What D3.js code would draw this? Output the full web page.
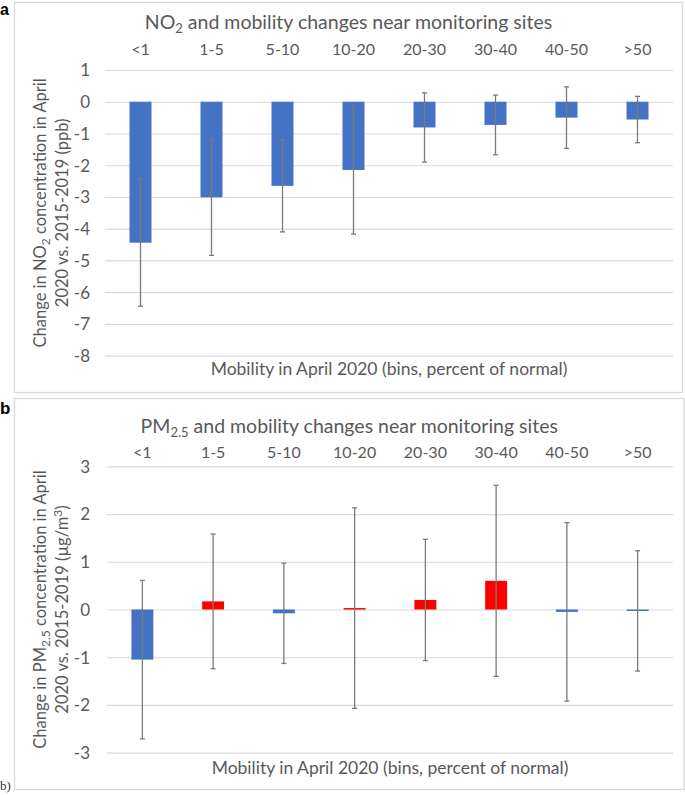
<!DOCTYPE html>
<html>
<head>
<meta charset="utf-8">
<script src="https://cdn.jsdelivr.net/npm/d3@7"></script>
<style>
  html, body { margin: 0; padding: 0; background: #fff; }
  svg { display: block; }
  text { font-family: Lato, "Open Sans", sans-serif; fill: #595959; }
</style>
</head>
<body>
<svg id="chart" width="685" height="795"></svg>
<script>
// ---------- data ----------
const categories = ["<1", "1-5", "5-10", "10-20", "20-30", "30-40", "40-50", ">50"];

// Panel a: NO2 change (ppb)
const no2Values = [-4.44, -3.01, -2.65, -2.15, -0.81, -0.73, -0.50, -0.56];
const no2Errors = [2.0, 1.83, 1.45, 2.02, 1.09, 0.94, 0.97, 0.73];
const no2Ticks = [1, 0, -1, -2, -3, -4, -5, -6, -7, -8];

// Panel b: PM2.5 change (ug/m3)
const pmValues = [-1.05, 0.17, -0.08, 0.03, 0.20, 0.60, -0.05, -0.03];
const pmErrors = [1.66, 1.41, 1.05, 2.10, 1.27, 2.00, 1.87, 1.26];
const pmTicks = [3, 2, 1, 0, -1, -2, -3];

const xTitle = "Mobility in April 2020 (bins, percent of normal)";

// ---------- drawing ----------
const svg = d3.select("#chart");
const BLUE = "#4472C4", RED = "#FF0000", GRID = "#d9d9d9", ERR = "#7a7a7a";

function drawPanel(cfg) {
  const g = svg.append("g");
  // panel frame
  g.append("rect")
    .attr("x", cfg.frame[0]).attr("y", cfg.frame[1])
    .attr("width", cfg.frame[2] - cfg.frame[0]).attr("height", cfg.frame[3] - cfg.frame[1])
    .attr("fill", "none").attr("stroke", "#d9d9d9").attr("stroke-width", 1.3);

  const x = d3.scaleBand().domain(categories).range([cfg.left, cfg.right]).padding(0);
  const y = d3.scaleLinear().domain(cfg.domain).range([cfg.bottom, cfg.top]);

  // gridlines via axis
  const yAxis = d3.axisLeft(y).tickValues(cfg.ticks).tickSize(-(cfg.right - cfg.left)).tickFormat(d => String(d));
  const ya = g.append("g").attr("transform", `translate(${cfg.left},0)`).call(yAxis);
  ya.select(".domain").remove();
  ya.selectAll(".tick line").attr("stroke", GRID).attr("stroke-width", 1.2);
  ya.selectAll(".tick text").attr("x", -cfg.tickGap).attr("dy", "0.35em")
    .style("font-size", "17px").style("font-family", "Lato, sans-serif").attr("fill", "#595959");

  // category labels on top
  const xAxis = d3.axisTop(x).tickSize(0);
  const xa = g.append("g").attr("transform", `translate(0,${cfg.catY})`).call(xAxis);
  xa.select(".domain").remove();
  xa.selectAll(".tick text").attr("y", 0).attr("dy", 0)
    .style("font-size", "16px").style("font-family", "Lato, sans-serif").attr("fill", "#595959");

  const bw = x.bandwidth() * 0.31;
  const cx = d => x(d) + x.bandwidth() / 2;

  const vals = cfg.values;
  // bars
  g.selectAll("rect.bar").data(categories).join("rect")
    .attr("class", "bar")
    .attr("x", d => cx(d) - bw / 2)
    .attr("width", bw)
    .attr("y", (d, i) => y(Math.max(0, vals[i])))
    .attr("height", (d, i) => Math.max(1.5, Math.abs(y(vals[i]) - y(0))))
    .attr("fill", (d, i) => cfg.signColors && vals[i] > 0 ? RED : BLUE);

  // error bars
  const eg = g.selectAll("g.err").data(categories).join("g").attr("class", "err");
  eg.append("line")
    .attr("x1", cx).attr("x2", cx)
    .attr("y1", (d, i) => y(vals[i] + cfg.errors[i]))
    .attr("y2", (d, i) => y(vals[i] - cfg.errors[i]))
    .attr("stroke", ERR).attr("stroke-width", 1.3);
  [1, -1].forEach(s => {
    eg.append("line")
      .attr("x1", d => cx(d) - 2.5).attr("x2", d => cx(d) + 2.5)
      .attr("y1", (d, i) => y(vals[i] + s * cfg.errors[i]))
      .attr("y2", (d, i) => y(vals[i] + s * cfg.errors[i]))
      .attr("stroke", ERR).attr("stroke-width", 1.3);
  });

  // chart title
  const t = g.append("text").attr("x", (cfg.frame[0] + cfg.frame[2]) / 2).attr("y", cfg.titleY)
    .attr("text-anchor", "middle").style("font-size", "19.5px");
  t.append("tspan").text(cfg.titleMain);
  t.append("tspan").text(cfg.titleSub).attr("dy", 4).style("font-size", "13px");
  t.append("tspan").text(cfg.titleRest).attr("dy", -4);

  // x axis title (bottom)
  g.append("text").attr("x", (cfg.left + cfg.right) / 2).attr("y", cfg.xTitleY)
    .attr("text-anchor", "middle").style("font-size", "17.5px").text(xTitle);

  // y axis title (two lines, rotated)
  const cy = (cfg.top + cfg.bottom) / 2;
  const l1 = g.append("text").attr("transform", `translate(46,${cy}) rotate(-90)`)
    .attr("text-anchor", "middle").style("font-size", "16.5px");
  cfg.yLine1.forEach(p => {
    const ts = l1.append("tspan").text(p.t);
    if (p.sub) ts.attr("dy", 4).style("font-size", "12px");
    if (p.back) ts.attr("dy", -4);
  });
  const l2 = g.append("text").attr("transform", `translate(68,${cy}) rotate(-90)`)
    .attr("text-anchor", "middle").style("font-size", "16.5px");
  cfg.yLine2.forEach(p => {
    const ts = l2.append("tspan").text(p.t);
    if (p.sup) ts.attr("dy", -6).style("font-size", "12px");
    if (p.back) ts.attr("dy", 6);
  });
}

drawPanel({
  frame: [14.5, 2.5, 682.5, 392.5],
  left: 105, right: 673, top: 70, bottom: 355.7, tickGap: 15,
  domain: [-8, 1], ticks: no2Ticks,
  values: no2Values, errors: no2Errors, signColors: false,
  catY: 55, titleY: 29, xTitleY: 375,
  titleMain: "NO", titleSub: "2", titleRest: " and mobility changes near monitoring sites",
  yLine1: [{t: "Change in NO"}, {t: "2", sub: true}, {t: " concentration in April", back: true}],
  yLine2: [{t: "2020 vs. 2015-2019 (ppb)"}]
});

drawPanel({
  frame: [14.5, 398.5, 684, 789.5],
  left: 107, right: 673, top: 466.3, bottom: 752.7, tickGap: 17,
  domain: [-3, 3], ticks: pmTicks,
  values: pmValues, errors: pmErrors, signColors: true,
  catY: 458, titleY: 433, xTitleY: 774,
  titleMain: "PM", titleSub: "2.5", titleRest: " and mobility changes near monitoring sites",
  yLine1: [{t: "Change in PM"}, {t: "2.5", sub: true}, {t: " concentration in April", back: true}],
  yLine2: [{t: "2020 vs. 2015-2019 (µg/m"}, {t: "3", sup: true}, {t: ")", back: true}]
});

// panel letters
svg.append("text").attr("x", 0).attr("y", 15).text("a")
  .style("font-family", "Arial, 'Liberation Sans', sans-serif").style("font-weight", "bold")
  .style("font-size", "16px").style("fill", "#000");
svg.append("text").attr("x", 0).attr("y", 414).text("b")
  .style("font-family", "Arial, 'Liberation Sans', sans-serif").style("font-weight", "bold")
  .style("font-size", "17px").style("fill", "#000");
svg.append("text").attr("x", 0).attr("y", 790).text("b)")
  .style("font-family", "'Liberation Serif', 'DejaVu Serif', serif")
  .style("font-size", "13px").style("fill", "#333");
</script>
</body>
</html>
